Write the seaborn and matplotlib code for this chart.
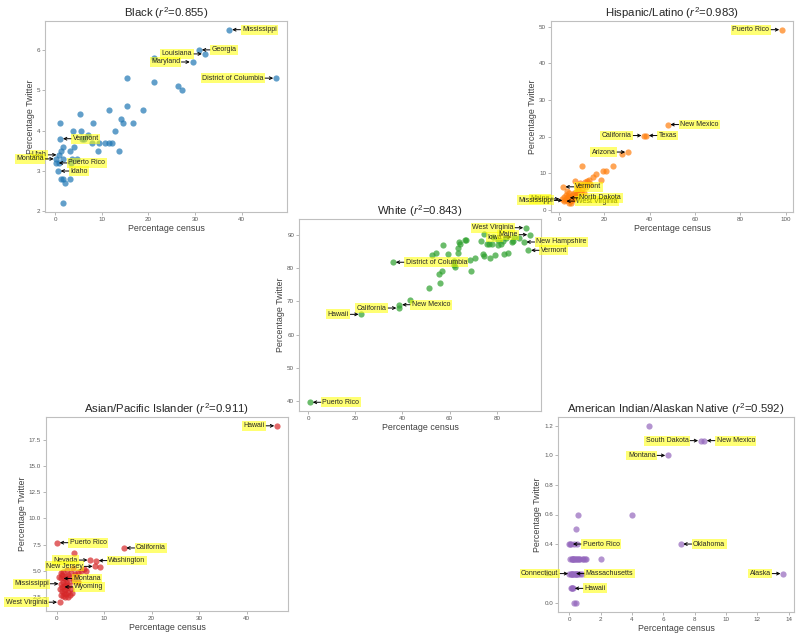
import numpy as np
import pandas as pd
import matplotlib
matplotlib.use('Agg')
import matplotlib.pyplot as plt
import seaborn as sns

# ------------------------------------------------------------
# data: census % (x) vs twitter % (y); labelled states first
# ------------------------------------------------------------
black_names = ['Mississippi', 'Georgia', 'Louisiana', 'Maryland', 'District of Columbia',
               'Vermont', 'Utah', 'Montana', 'Puerto Rico', 'Idaho']
black_sides = ['R', 'R', 'L', 'L', 'L', 'R', 'L', 'L', 'R', 'R']
black_x = [37.4, 30.9, 32.1, 29.5, 47.4, 1.1, 0.9, 0.3, 0.2, 0.6,
           21.2, 15.5, 21.2, 26.4, 27.2, 15.5, 11.6, 18.9, 5.4, 14.2, 1.1, 8.2, 14.6, 16.8,
           3.9, 5.6, 12.8, 7.1, 5.7, 6.3, 7.9, 9.5, 10.7, 11.6, 12.3, 1.6, 4.0, 1.2, 3.2,
           9.2, 13.8, 1.8, 3.6, 4.7, 0.9, 1.2, 1.8, 3.2, 2.1, 1.7, 3.5]
black_y = [6.5, 6.0, 5.9, 5.7, 5.3, 3.8, 3.4, 3.3, 3.2, 3.0,
           5.8, 5.3, 5.2, 5.1, 5.0, 4.6, 4.5, 4.5, 4.4, 4.3, 4.2, 4.2, 4.2, 4.2,
           4.0, 4.0, 4.0, 3.9, 3.8, 3.8, 3.7, 3.7, 3.7, 3.7, 3.7, 3.6, 3.6, 3.5, 3.5,
           3.5, 3.5, 3.3, 3.3, 3.3, 3.2, 2.8, 2.8, 2.8, 2.7, 2.2, 3.2]

hisp_names = ['Puerto Rico', 'New Mexico', 'California', 'Texas', 'Arizona',
              'Vermont', 'Maine', 'Mississippi', 'West Virginia', 'North Dakota']
hisp_sides = ['L', 'R', 'L', 'R', 'L', 'R', 'L', 'L', 'R', 'R']
hisp_x = [98.4, 47.9, 37.6, 38.4, 30.4, 1.6, 1.3, 2.7, 2.0, 3.5,
          27.8, 24.0, 10.0, 19.3, 20.9, 16.5, 15.2, 18.6, 6.9, 12.2, 13.6, 10.6, 11.5,
          9.0, 8.5, 10.2, 3.4, 4.5, 5.5, 6.5, 7.5, 8.0, 9.5, 4.0, 5.0, 6.0, 7.2, 3.5,
          4.8, 5.8, 4.2, 6.8, 8.5, 11.0, 3.0, 2.2, 5.2, 7.8, 12.0, 9.2, 13.0]
hisp_y = [49.2, 23.3, 20.3, 20.3, 15.8, 6.3, 3.0, 2.6, 2.4, 3.3,
          15.3, 12.0, 12.0, 10.6, 10.5, 9.8, 9.1, 8.2, 7.8, 8.0, 7.2, 6.9, 7.5,
          6.5, 5.5, 5.8, 5.1, 4.6, 4.2, 4.7, 5.0, 4.3, 4.8, 3.8, 3.5, 3.2, 3.8, 2.8,
          2.5, 2.7, 2.0, 2.9, 3.6, 4.5, 4.2, 3.6, 1.8, 6.2, 6.3, 7.3, 8.3]

white_names = ['West Virginia', 'Iowa', 'Maine', 'New Hampshire', 'Vermont',
               'District of Columbia', 'New Mexico', 'California', 'Hawaii', 'Puerto Rico']
white_sides = ['L', 'L', 'L', 'R', 'R', 'R', 'R', 'L', 'L', 'R']
white_x = [92.4, 87.5, 94.1, 91.4, 93.4, 36.0, 38.7, 38.6, 22.6, 0.8,
           43.4, 51.3, 56.1, 55.6, 56.8, 62.3, 69.0, 61.9, 52.6, 54.2, 59.5, 57.2, 63.4,
           63.4, 63.8, 64.4, 66.4, 67.0, 68.8, 70.6, 73.4, 74.0, 74.6, 74.6, 76.0, 76.7,
           77.8, 77.1, 79.2, 80.4, 81.6, 82.5, 86.7, 86.4, 83.1, 84.6, 80.5, 78.5, 84.0,
           89.5, 62.0]
white_y = [92.2, 89.4, 90.1, 87.9, 85.4, 81.8, 69.0, 68.0, 66.1, 39.6,
           70.4, 74.1, 75.5, 78.4, 79.2, 80.4, 79.3, 82.1, 84.1, 84.6, 84.3, 87.1, 84.6,
           86.1, 88.0, 87.2, 88.4, 88.4, 82.4, 83.0, 88.2, 84.4, 83.6, 90.4, 87.2, 87.2,
           87.2, 83.2, 84.1, 87.0, 87.2, 88.2, 88.2, 87.8, 84.4, 84.6, 88.6, 89.5, 89.0,
           89.2, 81.0]

asian_names = ['Hawaii', 'Puerto Rico', 'California', 'Nevada', 'Washington',
               'New Jersey', 'Montana', 'Mississippi', 'Wyoming', 'West Virginia']
asian_sides = ['L', 'R', 'R', 'L', 'R', 'L', 'R', 'L', 'R', 'L']
asian_x = [46.4, 0.1, 14.1, 7.1, 8.3, 8.2, 0.9, 1.0, 1.1, 0.7,
           3.6, 9.1, 6.1, 5.2, 4.5, 3.8, 3.0, 2.5, 1.2, 2.0, 1.6, 2.8, 3.4, 1.3, 2.1,
           2.6, 1.5, 2.3, 3.0, 1.8, 1.1, 2.5, 2.0, 3.2, 1.3, 1.8, 2.4, 1.0, 5.8, 4.0,
           0.5, 1.9, 0.8, 2.8, 1.4, 2.2, 3.5, 1.0, 4.5, 1.6, 2.0]
asian_y = [18.8, 7.7, 7.2, 6.05, 6.0, 5.45, 4.3, 3.8, 3.5, 2.05,
           6.7, 5.4, 5.0, 5.0, 4.9, 4.7, 4.8, 4.6, 4.6, 4.5, 4.3, 4.3, 4.1, 4.0, 3.9,
           3.7, 3.6, 3.4, 3.3, 3.2, 3.1, 3.0, 2.8, 2.9, 2.6, 2.5, 2.5, 2.7, 5.2, 4.5,
           4.4, 4.1, 3.3, 2.7, 4.9, 5.1, 5.3, 4.8, 4.0, 2.9, 3.6]

amind_names = ['South Dakota', 'New Mexico', 'Montana', 'Puerto Rico', 'Oklahoma',
               'Connecticut', 'Massachusetts', 'Hawaii', 'Alaska']
amind_sides = ['L', 'R', 'L', 'R', 'R', 'L', 'R', 'R', 'L']
amind_x = [8.4, 8.6, 6.3, 0.05, 7.1, 0.1, 0.25, 0.17, 13.66,
           5.07, 0.58, 4.0, 0.4, -0.04, 0.48,
           0.06, 0.15, 0.25, 0.35, 0.45, 0.55, 0.7, 0.85, 1.0, 1.08, 2.0,
           0.0, 0.15, 0.3, 0.4, 0.5, 0.65, 0.8, 0.1, 0.22, 0.3, 0.4,
           0.2, 0.3, 0.5, 0.6, 0.9, 0.1, 0.2, 0.35, 0.45, 0.55, 0.1, 0.3, 0.15, 0.25]
amind_y = [1.1, 1.1, 1.0, 0.4, 0.4, 0.2, 0.2, 0.1, 0.2,
           1.2, 0.6, 0.6, 0.5, 0.4, 0.4,
           0.3, 0.3, 0.3, 0.3, 0.3, 0.3, 0.3, 0.3, 0.3, 0.3, 0.3,
           0.2, 0.2, 0.2, 0.2, 0.2, 0.2, 0.2, 0.1, 0.1, 0.0, 0.0,
           0.3, 0.3, 0.3, 0.3, 0.3, 0.2, 0.2, 0.2, 0.2, 0.2, 0.4, 0.4, 0.1, 0.3]

# ------------------------------------------------------------
# style
# ------------------------------------------------------------
sns.set_style('ticks', {'axes.edgecolor': '.75', 'xtick.color': '.6', 'ytick.color': '.6'})
plt.rcParams['font.family'] = ['Liberation Sans', 'DejaVu Sans']
plt.rcParams['mathtext.fontset'] = 'custom'
plt.rcParams['mathtext.rm'] = 'Liberation Sans'
plt.rcParams['mathtext.it'] = 'Liberation Sans:italic'

pal = sns.color_palette('tab10')

fig = plt.figure(figsize=(8, 6.37), dpi=100)

# axes boxes in pixels: left, top, width, height
panels = [
    ('Black', 0.855, black_x, black_y, black_names, black_sides, pal[0], [45, 21, 242, 191]),
    ('Hispanic/Latino', 0.983, hisp_x, hisp_y, hisp_names, hisp_sides, pal[1], [551, 21, 242, 191]),
    ('White', 0.843, white_x, white_y, white_names, white_sides, pal[2], [299, 219, 242, 192]),
    ('Asian/Pacific Islander', 0.911, asian_x, asian_y, asian_names, asian_sides, pal[3], [46, 417, 242, 194]),
    ('American Indian/Alaskan Native', 0.592, amind_x, amind_y, amind_names, amind_sides, pal[4], [558, 417, 236, 195]),
]

W, H = 800, 637
for title, r2, xs, ys, names, sides, col, (px, py, pw, ph) in panels:
    ax = fig.add_axes([px / W, 1 - (py + ph) / H, pw / W, ph / H])
    df = pd.DataFrame({'census': xs, 'twitter': ys})
    sns.scatterplot(data=df, x='census', y='twitter', color=col, alpha=0.7,
                    s=20, linewidth=0, ax=ax)
    for i, name in enumerate(names):
        off = 9 if sides[i] == 'R' else -9
        ax.annotate(name, xy=(xs[i], ys[i]), xytext=(off, 0), textcoords='offset points',
                    ha='left' if sides[i] == 'R' else 'right', va='center',
                    fontsize=5.0, color='.15',
                    bbox=dict(boxstyle='square,pad=0.2', fc='yellow', ec='none', alpha=0.55),
                    arrowprops=dict(arrowstyle='->', color='black', lw=0.7,
                                    shrinkA=0, shrinkB=2))
    ax.set_title(f'{title} ($r^2$={r2})', fontsize=8.2, color='.15', pad=2)
    ax.set_xlabel('Percentage census', fontsize=6.4, color='.25', labelpad=1.5)
    ax.set_ylabel('Percentage Twitter', fontsize=6.4, color='.25', labelpad=1.5)
    ax.tick_params(labelsize=4.5, labelcolor='.35', length=2, width=0.5, pad=1.5)
    for sp in ax.spines.values():
        sp.set_linewidth(0.8)

plt.savefig('out.png', dpi=100)
